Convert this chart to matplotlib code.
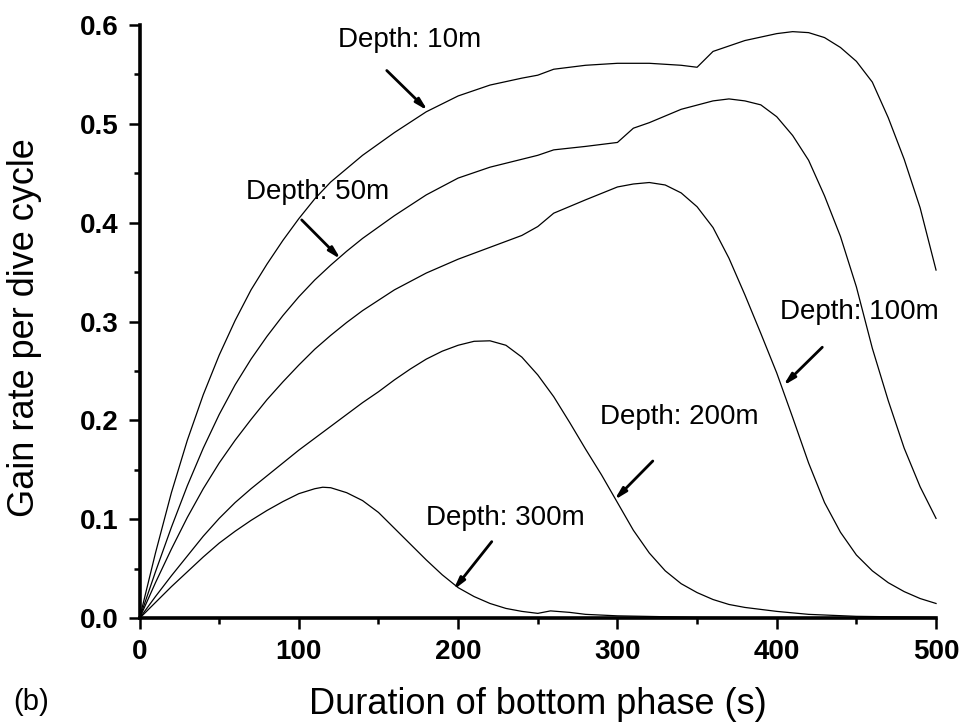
import matplotlib
matplotlib.use("Agg")
import matplotlib.pyplot as plt
from matplotlib.ticker import MultipleLocator

plt.rcParams['font.family'] = ['Liberation Sans', 'DejaVu Sans']

# ---- data ----
x_10m = [0, 10, 20, 30, 40, 50, 60, 70, 80, 90, 100, 110, 120, 140, 160, 180, 200, 220, 240, 250,
         260, 280, 300, 320, 340, 350, 360, 380, 400, 410, 420, 430, 440, 450, 460, 470, 480, 490, 500]
y_10m = [0, 0.066, 0.127, 0.18, 0.226, 0.266, 0.301, 0.332, 0.358, 0.382, 0.404, 0.424, 0.441, 0.468,
         0.491, 0.512, 0.528, 0.539, 0.546, 0.549, 0.555, 0.559, 0.561, 0.561, 0.559, 0.557, 0.573,
         0.584, 0.591, 0.593, 0.592, 0.587, 0.577, 0.563, 0.542, 0.506, 0.464, 0.415, 0.352]

x_50m = [0, 10, 20, 30, 40, 50, 60, 70, 80, 90, 100, 110, 120, 130, 140, 160, 180, 200, 220, 240, 250,
         260, 280, 300, 310, 320, 340, 360, 370, 380, 390, 400, 410, 420, 430, 440, 450, 460, 470, 480,
         490, 500]
y_50m = [0, 0.047, 0.092, 0.134, 0.172, 0.206, 0.236, 0.262, 0.285, 0.306, 0.325, 0.342, 0.357, 0.371,
         0.384, 0.407, 0.428, 0.445, 0.456, 0.464, 0.468, 0.4735, 0.477, 0.481, 0.4954, 0.501, 0.5145,
         0.523, 0.525, 0.523, 0.519, 0.507, 0.488, 0.463, 0.427, 0.386, 0.335, 0.273, 0.22, 0.172,
         0.133, 0.101]

x_100m = [0, 10, 20, 30, 40, 50, 60, 70, 80, 90, 100, 110, 120, 130, 140, 160, 180, 200, 220, 240,
          250, 260, 280, 300, 310, 320, 330, 340, 350, 360, 370, 380, 390, 400, 410, 420, 430, 440,
          450, 460, 470, 480, 490, 500]
y_100m = [0, 0.036, 0.07, 0.102, 0.131, 0.157, 0.18, 0.201, 0.221, 0.239, 0.256, 0.272, 0.286, 0.299,
          0.311, 0.332, 0.349, 0.363, 0.375, 0.387, 0.396, 0.4095, 0.423, 0.436, 0.439, 0.4405, 0.438,
          0.43, 0.416, 0.395, 0.364, 0.327, 0.288, 0.248, 0.203, 0.157, 0.117, 0.087, 0.064, 0.048,
          0.036, 0.027, 0.02, 0.015]

x_200m = [0, 10, 20, 30, 40, 50, 60, 70, 80, 90, 100, 110, 120, 130, 140, 150, 160, 170, 180, 190,
          200, 210, 220, 230, 240, 250, 260, 270, 280, 290, 300, 310, 320, 330, 340, 350, 360, 370,
          380, 400, 420, 450, 500]
y_200m = [0, 0.022, 0.043, 0.063, 0.083, 0.101, 0.117, 0.131, 0.144, 0.157, 0.17, 0.182, 0.194,
          0.206, 0.218, 0.229, 0.241, 0.252, 0.262, 0.27, 0.276, 0.28, 0.2805, 0.276, 0.264, 0.246,
          0.224, 0.198, 0.171, 0.145, 0.117, 0.089, 0.066, 0.048, 0.035, 0.026, 0.019, 0.014, 0.011,
          0.007, 0.004, 0.002, 0.001]

x_300m = [0, 10, 20, 30, 40, 50, 60, 70, 80, 90, 100, 110, 115, 120, 130, 140, 150, 160, 170, 180,
          190, 200, 210, 220, 230, 240, 250, 258, 270, 280, 300, 350, 400, 500]
y_300m = [0, 0.016, 0.032, 0.047, 0.062, 0.076, 0.088, 0.099, 0.109, 0.118, 0.126, 0.131, 0.1325,
          0.132, 0.127, 0.119, 0.107, 0.091, 0.075, 0.059, 0.044, 0.031, 0.022, 0.015, 0.01, 0.007,
          0.005, 0.0075, 0.006, 0.004, 0.0025, 0.001, 0.0005, 0.0]

labels = ["Depth: 10m", "Depth: 50m", "Depth: 100m", "Depth: 200m", "Depth: 300m"]
label_xy = [(169.8, 0.585), (112.1, 0.4313), (451.6, 0.3092), (339.1, 0.203), (229.4, 0.1019)]
arrow_tail = [(155.2, 0.5537), (101.8, 0.4027), (428.6, 0.274), (322.2, 0.159), (221.1, 0.0775)]
arrow_head = [(180.9, 0.5132), (126.3, 0.363), (404.1, 0.2352), (298.1, 0.1196), (197.0, 0.0286)]

x_ticks = [0, 100, 200, 300, 400, 500]
y_ticks = [0.0, 0.1, 0.2, 0.3, 0.4, 0.5, 0.6]

# ---- figure ----
fig = plt.figure(figsize=(9.63, 7.27), dpi=100)
ax = fig.add_axes([0.1449, 0.1495, 0.972 - 0.1449, 0.966 - 0.1495])

for xs, ys in [(x_10m, y_10m), (x_50m, y_50m), (x_100m, y_100m), (x_200m, y_200m), (x_300m, y_300m)]:
    ax.plot(xs, ys, color='black', lw=0.9, clip_on=False)

ax.set_xlim(0, 500)
ax.set_ylim(0, 0.6)
ax.set_xticks(x_ticks)
ax.set_yticks(y_ticks)
ax.set_xticklabels([str(v) for v in x_ticks])
ax.set_yticklabels([f"{v:.1f}" for v in y_ticks])
ax.xaxis.set_minor_locator(MultipleLocator(50))
ax.yaxis.set_minor_locator(MultipleLocator(0.05))

for s in ['top', 'right']:
    ax.spines[s].set_visible(False)
for s in ['left', 'bottom']:
    ax.spines[s].set_linewidth(2.6)

ax.tick_params(which='major', direction='out', length=8, width=1.8, labelsize=20, pad=7)
ax.tick_params(which='minor', direction='out', length=4.5, width=1.8)
for lab in ax.get_xticklabels() + ax.get_yticklabels():
    lab.set_fontweight('bold')

ax.set_xlabel("Duration of bottom phase (s)", fontsize=26, labelpad=16)
ax.set_ylabel("Gain rate per dive cycle", fontsize=26)
ax.yaxis.set_label_coords(-0.122, 0.49)

for lab, (tx, ty), (ax0, ay0), (hx, hy) in zip(labels, label_xy, arrow_tail, arrow_head):
    ax.text(tx, ty, lab, fontsize=20, ha='center', va='center', clip_on=False)
    ax.annotate("", xy=(hx, hy), xytext=(ax0, ay0),
                arrowprops=dict(arrowstyle='-|>,head_length=0.7,head_width=0.18',
                                color='black', lw=2.0, shrinkA=0, shrinkB=0))

fig.text(31.5 / 963, 1 - 702 / 727, "(b)", fontsize=21, ha='center', va='center')

fig.savefig("out.png", dpi=100)
